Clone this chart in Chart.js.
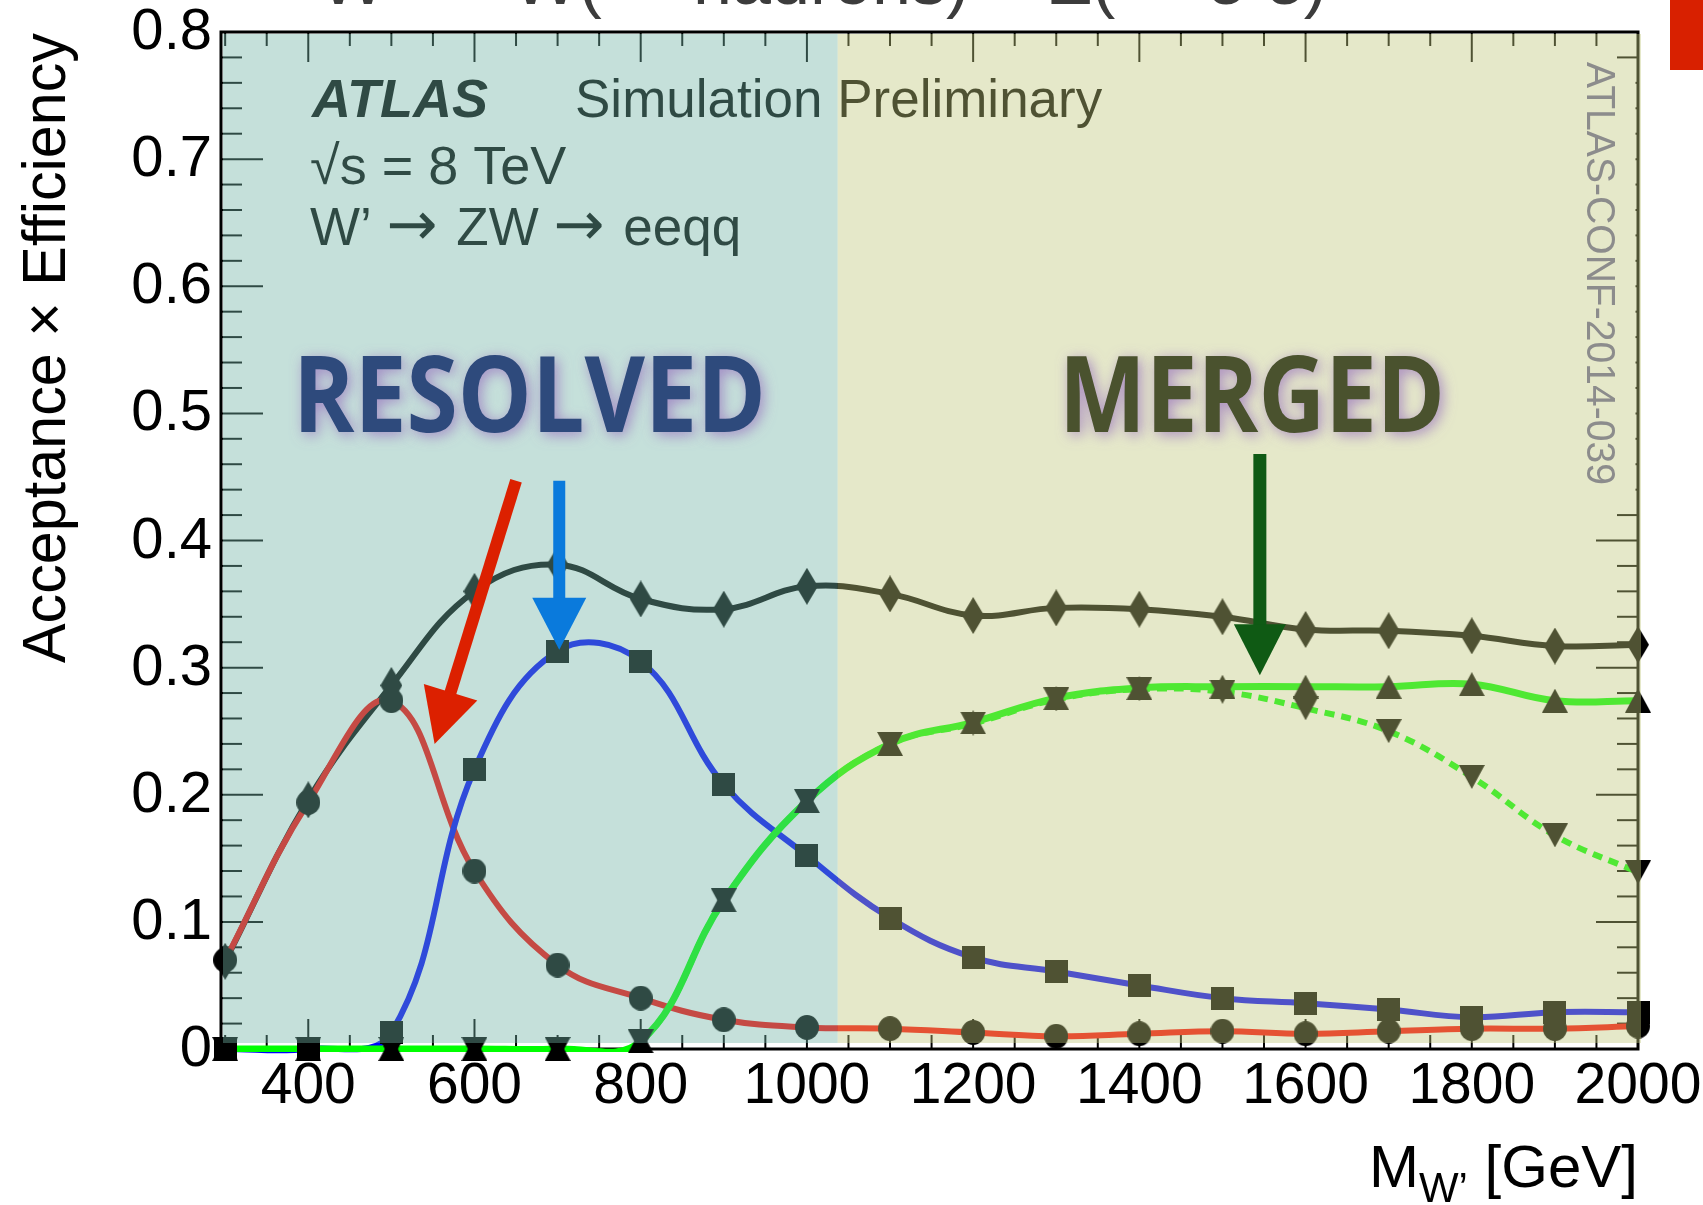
<!DOCTYPE html>
<html>
<head>
<meta charset="utf-8">
<title>W' acceptance x efficiency</title>
<script src="https://cdn.jsdelivr.net/npm/chart.js@4.4.1/dist/chart.umd.min.js"></script>
<style>
  html, body { margin: 0; padding: 0; background: #fff; }
  #acc-canvas { display: block; }
</style>
</head>
<body>
<canvas id="acc-canvas" width="1703" height="1205" style="width:1703px;height:1205px"></canvas>
<script>
// W' mass points [GeV]
const masses = [300, 400, 500, 600, 700, 800, 900, 1000, 1100, 1200, 1300, 1400, 1500, 1600, 1700, 1800, 1900, 2000];

// acceptance x efficiency per selection
const totalAcc = [0.069, 0.196, 0.286, 0.360, 0.381, 0.354, 0.346, 0.364, 0.358, 0.341, 0.347, 0.346, 0.340, 0.330, 0.329, 0.325, 0.317, 0.318];
const resolvedLowAcc = [0.070, 0.194, 0.274, 0.140, 0.066, 0.040, 0.023, 0.017, 0.016, 0.013, 0.010, 0.012, 0.014, 0.012, 0.014, 0.016, 0.016, 0.018];
const resolvedHighAcc = [0, 0, 0.013, 0.220, 0.313, 0.305, 0.208, 0.152, 0.103, 0.072, 0.061, 0.050, 0.040, 0.036, 0.031, 0.025, 0.029, 0.029];
const mergedAcc = [0, 0, 0, 0, 0, 0.006, 0.117, 0.195, 0.240, 0.257, 0.276, 0.284, 0.285, 0.285, 0.285, 0.287, 0.274, 0.274];
const mergedAltAcc = [0, 0, 0, 0, 0, 0.006, 0.117, 0.195, 0.240, 0.256, 0.275, 0.283, 0.281, 0.268, 0.250, 0.214, 0.168, 0.139];

// axis labels
const xTickLabels = [400, 600, 800, 1000, 1200, 1400, 1600, 1800, 2000];
const yTickLabels = [0, 0.1, 0.2, 0.3, 0.4, 0.5, 0.6, 0.7, 0.8];

// where the resolved region ends and the merged one starts [GeV]
const regionSplit = 1037;

const FONT = '"Liberation Sans", Arial, Helvetica, sans-serif';
const ARROW_FONT = '"DejaVu Sans", sans-serif';

function markerCanvas(shape, w, h) {
    const c = document.createElement('canvas');
    c.width = w;
    c.height = h;
    const g = c.getContext('2d');
    g.fillStyle = '#000';
    g.beginPath();
    if (shape === 'diamond') {
        g.moveTo(w / 2, 0); g.lineTo(w, h / 2); g.lineTo(w / 2, h); g.lineTo(0, h / 2);
    } else if (shape === 'square') {
        g.rect(0, 0, w, h);
    } else if (shape === 'circle') {
        g.ellipse(w / 2, h / 2, w / 2, h / 2, 0, 0, Math.PI * 2);
    } else if (shape === 'up') {
        g.moveTo(w / 2, 0); g.lineTo(w, h); g.lineTo(0, h);
    } else {
        g.moveTo(0, 0); g.lineTo(w, 0); g.lineTo(w / 2, h);
    }
    g.closePath();
    g.fill();
    return c;
}

const series = [
    {label: 'Total', values: totalAcc, color: '#000000', marker: markerCanvas('diamond', 22, 37), width: 6},
    {label: 'Resolved (low)', values: resolvedLowAcc, color: '#ff0000', marker: markerCanvas('circle', 24, 25), width: 6},
    {label: 'Resolved (high)', values: resolvedHighAcc, color: '#0000ff', marker: markerCanvas('square', 23, 23), width: 6},
    {label: 'Merged', values: mergedAcc, color: '#00ff00', marker: markerCanvas('up', 26, 24), width: 7, bottomClip: 3},
    {label: 'Merged (alt)', values: mergedAltAcc, color: '#00ff00', marker: markerCanvas('down', 26, 24), width: 6, dash: [10, 7], bottomClip: 3},
];

const toPoints = vals => masses.map((m, i) => ({x: m, y: vals[i]}));

const datasets = [];
// markers on top
series.forEach(s => {
    datasets.push({
        label: s.label + ' markers',
        data: toPoints(s.values),
        showLine: false,
        pointStyle: s.marker,
        pointRadius: 10,
        pointBorderWidth: 0,
        clip: false,
        order: 0
    });
});
// then the smooth curves
series.slice().reverse().forEach((s, i) => {
    datasets.push({
        label: s.label,
        data: toPoints(s.values),
        borderColor: s.color,
        borderWidth: s.width,
        borderDash: s.dash || [],
        tension: 0.4,
        capBezierPoints: false,
        pointRadius: 0,
        fill: false,
        clip: s.bottomClip ? {left: false, top: false, right: false, bottom: s.bottomClip} : false,
        order: 1 + i
    });
});

function line(ctx, x1, y1, x2, y2) {
    ctx.beginPath();
    ctx.moveTo(x1, y1);
    ctx.lineTo(x2, y2);
    ctx.stroke();
}

// draws pieces of text one after another; pieces with arrow: true use the wider arrow font
function drawPieces(ctx, pieces, x, y, size) {
    pieces.forEach(p => {
        ctx.font = (p.style || '') + ' ' + (p.arrow ? Math.round(size * 1.15) + 'px ' + ARROW_FONT : size + 'px ' + FONT);
        ctx.fillText(p.t, x, y);
        x += ctx.measureText(p.t).width + (p.arrow ? 4 : 0);
    });
}

// frame, inward ticks and the text that sits under the tint
const framePlugin = {
    id: 'framePlugin',
    beforeDatasetsDraw(chart) {
        const {ctx, chartArea: a, scales: {x, y}} = chart;
        ctx.save();
        ctx.strokeStyle = '#000';
        ctx.lineWidth = 2;
        for (let m = 300; m <= 2000; m += 50) {
            const px = x.getPixelForValue(m);
            const len = xTickLabels.includes(m) ? 30 : 14;
            line(ctx, px, a.bottom, px, a.bottom - len);
            line(ctx, px, a.top, px, a.top + len);
        }
        for (let k = 0; k <= 40; k++) {
            const v = k * 0.02;
            const py = y.getPixelForValue(v);
            const len = k % 5 === 0 ? 42 : 21;
            line(ctx, a.left, py, a.left + len, py);
            line(ctx, a.right, py, a.right - len, py);
        }
        // blank box behind the conf-note id hides the right-hand ticks there
        ctx.fillStyle = '#fff';
        ctx.fillRect(1566, 62, a.right - 2.5 - 1566, 443);

        ctx.lineWidth = 3;
        ctx.strokeRect(a.left, a.top, a.right - a.left, a.bottom - a.top);

        ctx.fillStyle = '#000';
        ctx.textBaseline = 'alphabetic';
        ctx.textAlign = 'left';
        ctx.font = 'italic bold 54px ' + FONT;
        ctx.fillText('ATLAS', 312, 117);
        ctx.font = '53px ' + FONT;
        ctx.fillText('Simulation Preliminary', 575, 117);
        ctx.font = '54px ' + FONT;
        ctx.fillText('\u221As = 8 TeV', 310, 184);
        drawPieces(ctx, [{t: 'W\u2019 '}, {t: '\u2192', arrow: true}, {t: ' ZW '}, {t: '\u2192', arrow: true}, {t: ' eeqq'}], 310, 245, 53);
        ctx.restore();
    }
};

const arrows = [
    {from: [650, 0.447], to: [552, 0.240], color: '#dc2000', shaft: 12, headLen: 54, headW: 56},
    {from: [702, 0.447], to: [702, 0.314], color: '#0a7adc', shaft: 12, headLen: 52, headW: 54},
    {from: [1545, 0.468], to: [1545, 0.294], color: '#0f5a14', shaft: 13, headLen: 51, headW: 52}
];

const overlayPlugin = {
    id: 'overlayPlugin',
    afterDatasetsDraw(chart) {
        const {ctx, chartArea: a, scales: {x, y}} = chart;
        const split = x.getPixelForValue(regionSplit);
        const top = a.top + 2;
        const bottom = y.getPixelForValue(0) - 6;
        ctx.save();
        ctx.fillStyle = 'rgba(114,180,165,0.41)';
        ctx.fillRect(a.left + 2, top, split - a.left - 2, bottom - top);
        ctx.fillStyle = 'rgba(192,199,124,0.41)';
        ctx.fillRect(split, top, a.right + 3 - split, bottom - top);
        ctx.restore();
    },
    afterDraw(chart) {
        const {ctx, chartArea: a, scales: {x, y}} = chart;
        ctx.save();

        // region labels with glow
        ctx.font = 'bold 106px "Open Sans", ' + FONT;
        ctx.textAlign = 'left';
        ctx.textBaseline = 'alphabetic';
        ctx.shadowColor = 'rgba(150,110,190,0.75)';
        ctx.shadowBlur = 14;
        ctx.shadowOffsetX = 3;
        ctx.shadowOffsetY = 3;
        ctx.fillStyle = '#2e4a7c';
        ctx.fillText('RESOLVED', 293, 432, 473);
        ctx.fillStyle = '#4a522e';
        ctx.fillText('MERGED', 1059, 432, 386);
        ctx.shadowColor = 'transparent';
        ctx.shadowBlur = 0;
        ctx.shadowOffsetX = 0;
        ctx.shadowOffsetY = 0;

        arrows.forEach(ar => {
            const x0 = x.getPixelForValue(ar.from[0]), y0 = y.getPixelForValue(ar.from[1]);
            const x1 = x.getPixelForValue(ar.to[0]), y1 = y.getPixelForValue(ar.to[1]);
            const len = Math.hypot(x1 - x0, y1 - y0);
            const ux = (x1 - x0) / len, uy = (y1 - y0) / len;
            const bx = x1 - ux * ar.headLen, by = y1 - uy * ar.headLen;
            ctx.strokeStyle = ar.color;
            ctx.fillStyle = ar.color;
            ctx.lineWidth = ar.shaft;
            ctx.lineCap = 'butt';
            line(ctx, x0, y0, bx + ux * 4, by + uy * 4);
            ctx.beginPath();
            ctx.moveTo(x1, y1);
            ctx.lineTo(bx - uy * ar.headW / 2, by + ux * ar.headW / 2);
            ctx.lineTo(bx + uy * ar.headW / 2, by - ux * ar.headW / 2);
            ctx.closePath();
            ctx.fill();
        });

        // conf note id
        ctx.save();
        ctx.translate(1598, 62);
        ctx.rotate(Math.PI / 2);
        ctx.font = '40px ' + FONT;
        ctx.fillStyle = '#8c8c8c';
        ctx.textAlign = 'left';
        ctx.textBaseline = 'middle';
        ctx.fillText('ATLAS-CONF-2014-039', 0, 0, 423);
        ctx.restore();

        // tick labels
        ctx.fillStyle = '#000';
        ctx.font = '58px ' + FONT;
        ctx.textAlign = 'right';
        ctx.textBaseline = 'middle';
        yTickLabels.forEach(v => {
            ctx.fillText(v === 0 ? '0' : v.toFixed(1), 212, y.getPixelForValue(v) + 1);
        });
        ctx.font = '57px ' + FONT;
        ctx.textAlign = 'center';
        ctx.textBaseline = 'alphabetic';
        xTickLabels.forEach(m => {
            ctx.fillText(String(m), x.getPixelForValue(m), 1103);
        });

        // axis titles
        ctx.save();
        ctx.translate(65, 348);
        ctx.rotate(-Math.PI / 2);
        ctx.font = '62px ' + FONT;
        ctx.textAlign = 'center';
        ctx.fillText('Acceptance \u00d7 Efficiency', 0, 0, 630);
        ctx.restore();

        ctx.textAlign = 'left';
        ctx.font = '60px ' + FONT;
        const wM = ctx.measureText('M').width;
        const wRest = ctx.measureText(' [GeV]').width;
        ctx.font = '42px ' + FONT;
        const wSub = ctx.measureText('W\u2019').width;
        const tx = a.right - (wM + wSub + wRest);
        ctx.font = '60px ' + FONT;
        ctx.fillText('M', tx, 1187);
        ctx.font = '42px ' + FONT;
        ctx.fillText('W\u2019', tx + wM, 1202);
        ctx.font = '60px ' + FONT;
        ctx.fillText(' [GeV]', tx + wM + wSub, 1187);

        // cropped heading above the frame
        ctx.fillStyle = '#3c3c3c';
        drawPieces(ctx, [{t: 'W\u2019 '}, {t: '\u2192', arrow: true}, {t: ' W('}, {t: '\u2192', arrow: true},
            {t: ' hadrons) + Z('}, {t: '\u2192', arrow: true}, {t: ' e e)'}], 320, 4, 70);

        ctx.fillStyle = '#d82000';
        ctx.fillRect(1670, 0, 33, 70);
        ctx.restore();
    }
};

new Chart(document.getElementById('acc-canvas'), {
    type: 'line',
    data: {datasets: datasets},
    options: {
        responsive: false,
        animation: false,
        devicePixelRatio: 1,
        layout: {padding: {left: 221, right: 65, top: 32, bottom: 156}},
        plugins: {legend: {display: false}, tooltip: {enabled: false}},
        scales: {
            x: {type: 'linear', min: 295, max: 2000, display: false},
            y: {type: 'linear', min: 0, max: 0.8, display: false}
        }
    },
    plugins: [framePlugin, overlayPlugin]
});
</script>
</body>
</html>
